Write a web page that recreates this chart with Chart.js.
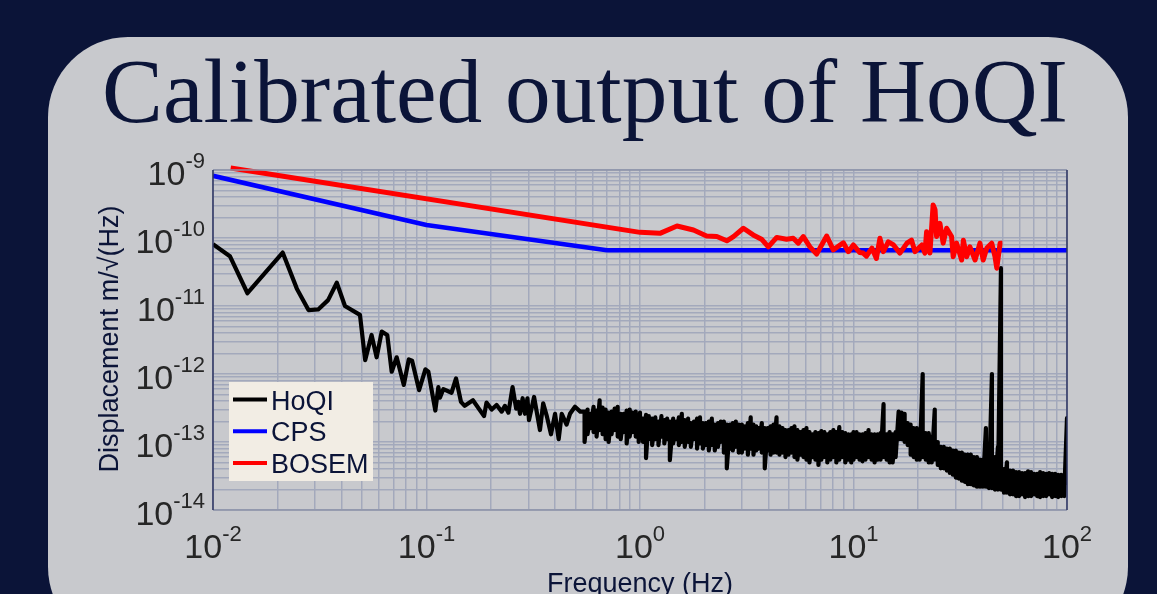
<!DOCTYPE html>
<html>
<head>
<meta charset="utf-8">
<title>Calibrated output of HoQI</title>
<script src="https://cdn.jsdelivr.net/npm/chart.js@4.4.1/dist/chart.umd.min.js"></script>
<style>
  html, body { margin: 0; padding: 0; background: #0b1438; }
  canvas { display: block; }
</style>
</head>
<body>
<canvas id="psd" width="1157" height="594"></canvas>
<script>
// HoQI spectrum below 0.55 Hz (Hz, m/sqrt(Hz))
const hoqiLowFreq = [
    0.01, 0.012, 0.0145, 0.0212, 0.0247, 0.028, 0.0311, 0.0346, 0.038, 0.0415,
    0.0488, 0.0516, 0.0553, 0.0584, 0.0617, 0.0655, 0.0687, 0.0725, 0.0783, 0.0826,
    0.0856, 0.0923, 0.0988, 0.102, 0.11, 0.1136, 0.1157, 0.12, 0.131, 0.1375,
    0.145, 0.151, 0.165, 0.186, 0.191, 0.202, 0.213, 0.225, 0.233, 0.242,
    0.253, 0.263, 0.269, 0.274, 0.282, 0.289, 0.297, 0.302, 0.319, 0.34,
    0.352, 0.366, 0.383, 0.40, 0.416, 0.43, 0.453, 0.47, 0.496, 0.525
];
const hoqiLowAmp = [
    8.1e-11, 5.4e-11, 1.54e-11, 6.1e-11, 1.8e-11, 8.7e-12, 8.9e-12, 1.22e-11, 2.2e-11, 1.0e-11,
    7.4e-12, 1.6e-12, 3.75e-12, 1.76e-12, 4.2e-12, 3.75e-12, 1.08e-12, 1.76e-12, 6.9e-13, 1.64e-12,
    1.57e-12, 5.8e-13, 1.17e-12, 1.08e-12, 2.9e-13, 6.4e-13, 4.5e-13, 6.0e-13, 5.3e-13, 8.6e-13,
    3.9e-13, 3.4e-13, 4.1e-13, 2.4e-13, 3.8e-13, 3.0e-13, 3.5e-13, 2.8e-13, 3.4e-13, 2.7e-13,
    6.4e-13, 3.1e-13, 3.9e-13, 2.6e-13, 4.4e-13, 2.6e-13, 4.4e-13, 2.1e-13, 4.6e-13, 1.5e-13,
    3.7e-13, 2.4e-13, 1.3e-13, 2.6e-13, 1.1e-13, 2.6e-13, 1.8e-13, 2.6e-13, 3.3e-13, 2.8e-13
];

// above 0.55 Hz the trace is a dense band: max and min read per frequency bin
const bandFreq = [
    0.55, 0.568, 0.587, 0.606, 0.626, 0.647, 0.668, 0.69, 0.713, 0.736,
    0.761, 0.786, 0.812, 0.838, 0.866, 0.895, 0.924, 0.955, 0.986,
    1.0, 1.033, 1.067, 1.1, 1.14, 1.18, 1.22, 1.26, 1.3, 1.34,
    1.38, 1.43, 1.48, 1.52, 1.57, 1.62, 1.68, 1.73, 1.79, 1.85,
    1.91, 1.97, 2.03, 2.1, 2.17, 2.24, 2.32, 2.39, 2.47, 2.55,
    2.64, 2.72, 2.81, 2.9,
    3.0, 3.1, 3.2, 3.3, 3.4, 3.5, 3.6, 3.72, 3.84, 3.96,
    4.09, 4.22, 4.36, 4.5, 4.65, 4.8, 4.96, 5.12, 5.29, 5.46,
    5.64, 5.83, 6.02, 6.22, 6.42, 6.63, 6.85, 7.07, 7.3, 7.54,
    7.79, 8.05, 8.31, 8.58, 8.86, 9.15, 9.45, 9.76,
    10, 10.33, 10.67, 11.02, 11.38, 11.76, 12.15, 12.55, 12.96, 13.39,
    13.83, 14.29, 14.76, 15.25, 15.75, 16.27, 16.81, 17.36, 17.93, 18.52,
    19.13, 19.77, 20.42, 21.09, 21.79, 22.51, 23.25, 24.02, 24.81, 25.63,
    26.47, 27.35, 28.25, 29.18, 30.14, 31.14, 32.16, 33.23, 34.32, 35.45,
    36.62, 37.83, 39.08, 40.37, 41.7, 43.08, 44.5, 45.97, 47.48, 49.05,
    50.67, 52.34, 54.07, 55.85, 57.7, 59.6, 61.57, 63.6, 65.7, 67.87,
    70.11, 72.42, 74.81, 77.28, 79.83, 82.46, 85.18, 87.99, 90.9, 93.9,
    97.0, 100
];
const bandMax = [
    2.8e-13, 3.0e-13, 2.6e-13, 3.3e-13, 2.9e-13, 4.1e-13, 3.2e-13, 3.0e-13, 2.7e-13, 2.8e-13,
    3.1e-13, 3.3e-13, 2.6e-13, 2.6e-13, 2.9e-13, 3.0e-13, 2.7e-13, 2.8e-13, 2.5e-13,
    2.7e-13, 2.2e-13, 2.5e-13, 2.4e-13, 2.2e-13, 2.3e-13, 2.0e-13, 2.4e-13, 2.1e-13, 2.2e-13,
    2.0e-13, 2.2e-13, 2.0e-13, 2.3e-13, 2.6e-13, 2.1e-13, 2.2e-13, 1.9e-13, 2.0e-13, 2.2e-13,
    2.3e-13, 1.9e-13, 1.9e-13, 2.0e-13, 2.2e-13, 1.8e-13, 1.9e-13, 2.0e-13, 2.0e-13, 1.8e-13,
    1.8e-13, 1.9e-13, 2.0e-13, 1.8e-13,
    1.8e-13, 1.7e-13, 1.9e-13, 2.3e-13, 1.8e-13, 1.7e-13, 1.6e-13, 1.9e-13, 1.6e-13, 1.6e-13,
    1.7e-13, 1.8e-13, 2.3e-13, 1.7e-13, 1.6e-13, 1.5e-13, 1.5e-13, 1.6e-13, 1.7e-13, 1.5e-13,
    1.4e-13, 1.5e-13, 1.6e-13, 1.4e-13, 1.3e-13, 1.4e-13, 1.35e-13, 1.45e-13, 1.4e-13, 1.3e-13,
    1.4e-13, 1.5e-13, 1.4e-13, 1.65e-13, 1.4e-13, 1.35e-13, 1.3e-13, 1.3e-13,
    1.4e-13, 1.4e-13, 1.3e-13, 1.3e-13, 1.35e-13, 1.5e-13, 1.3e-13, 1.3e-13, 1.3e-13, 1.35e-13,
    3.6e-13, 1.3e-13, 1.4e-13, 1.3e-13, 1.4e-13, 2.8e-13, 2.7e-13, 2.6e-13, 1.9e-13, 1.8e-13,
    1.6e-13, 1.6e-13, 1.4e-13, 1.0e-12, 1.35e-13, 1.35e-13, 1.2e-13, 3.0e-13, 1.0e-13, 8.5e-14,
    8.5e-14, 8.0e-14, 8.0e-14, 7.5e-14, 7.5e-14, 7.0e-14, 7.0e-14, 6.5e-14, 6.5e-14, 6.5e-14,
    6.0e-14, 6.0e-14, 5.5e-14, 5.5e-14, 1.6e-13, 5.5e-14, 1.0e-12, 6.0e-14, 8.5e-14, 3.6e-11,
    4.0e-14, 5.0e-14, 3.8e-14, 3.8e-14, 3.6e-14, 3.6e-14, 3.5e-14, 3.5e-14, 3.7e-14, 3.6e-14,
    3.4e-14, 3.4e-14, 3.6e-14, 3.5e-14, 3.4e-14, 3.5e-14, 3.4e-14, 3.4e-14, 3.3e-14, 3.3e-14,
    3.3e-14, 2.25e-13
];
const bandMin = [
    1.0e-13, 1.3e-13, 1.6e-13, 1.4e-13, 1.2e-13, 1.5e-13, 1.3e-13, 1.1e-13, 1.0e-13, 1.3e-13,
    1.5e-13, 1.2e-13, 1.1e-13, 1.4e-13, 9.5e-14, 1.2e-13, 1.4e-13, 1.2e-13, 1.0e-13,
    1.2e-13, 1.0e-13, 5.8e-14, 1.1e-13, 9.0e-14, 1.1e-13, 9.0e-14, 1.2e-13, 9.5e-14, 1.1e-13,
    5.4e-14, 9.5e-14, 1.1e-13, 9.0e-14, 1.0e-13, 8.5e-14, 1.0e-13, 8.5e-14, 1.1e-13, 8.0e-14,
    9.5e-14, 8.0e-14, 9.0e-14, 7.5e-14, 9.0e-14, 7.5e-14, 8.5e-14, 1.0e-13, 7.0e-14, 4.1e-14,
    8.0e-14, 7.5e-14, 8.5e-14, 7.0e-14,
    7.0e-14, 8.0e-14, 6.5e-14, 8.0e-14, 6.5e-14, 7.5e-14, 8.0e-14, 7.0e-14, 4.1e-14, 7.5e-14,
    6.5e-14, 7.0e-14, 7.0e-14, 6.5e-14, 7.0e-14, 6.0e-14, 6.5e-14, 7.0e-14, 6.0e-14, 5.5e-14,
    6.5e-14, 6.0e-14, 5.5e-14, 5.0e-14, 6.0e-14, 5.5e-14, 4.6e-14, 5.5e-14, 6.0e-14, 5.0e-14,
    5.5e-14, 6.0e-14, 5.0e-14, 5.5e-14, 6.0e-14, 5.0e-14, 5.5e-14, 5.0e-14,
    5.5e-14, 6.0e-14, 5.5e-14, 5.2e-14, 5.5e-14, 6.0e-14, 5.5e-14, 5.0e-14, 5.5e-14, 5.5e-14,
    6.0e-14, 5.5e-14, 5.0e-14, 5.0e-14, 6.0e-14, 1.1e-13, 1.1e-13, 1.0e-13, 9.0e-14, 6.5e-14,
    6.0e-14, 5.5e-14, 5.5e-14, 6.0e-14, 5.5e-14, 5.0e-14, 5.0e-14, 5.5e-14, 4.6e-14, 4.1e-14,
    4.1e-14, 3.8e-14, 3.5e-14, 3.3e-14, 3.0e-14, 2.9e-14, 2.7e-14, 2.6e-14, 2.4e-14, 2.4e-14,
    2.3e-14, 2.2e-14, 2.2e-14, 2.2e-14, 2.2e-14, 2.1e-14, 2.1e-14, 2.0e-14, 2.0e-14, 2.0e-14,
    1.8e-14, 1.8e-14, 1.7e-14, 1.7e-14, 1.6e-14, 1.6e-14, 1.7e-14, 1.55e-14, 1.6e-14, 1.6e-14,
    1.7e-14, 1.6e-14, 1.55e-14, 1.6e-14, 1.6e-14, 1.7e-14, 1.55e-14, 1.6e-14, 1.55e-14, 1.6e-14,
    1.6e-14, 2.5e-14
];

// CPS noise model
const cpsFreq = [0.01, 0.1, 0.7, 100];
const cpsAmp = [8.2e-10, 1.55e-10, 6.6e-11, 6.6e-11];

// BOSEM noise
const bosemFreq = [
    0.0121, 1.0, 1.24, 1.49, 1.78, 2.05, 2.29, 2.55, 2.74, 3.05,
    3.39, 3.71, 3.99, 4.37, 4.86, 5.22, 5.51, 5.82, 6.25, 6.72,
    7.49, 8.04, 8.96, 9.46, 9.98, 10.7, 11.1, 11.5, 12.2, 12.8,
    13.3, 13.8, 14.55, 15.4, 16.5, 17.8, 18.7, 19.4, 20.9, 21.6,
    22.0, 22.8, 23.6, 24.1, 24.5, 25.4, 26.3, 27.3, 28.8, 29.3,
    30.4, 32.1, 32.7, 33.9, 35.1, 37.1, 39.1, 40.5, 42.1, 44.4,
    46.0, 46.9, 48.6, 49.8
];
const bosemAmp = [
    1.07e-9, 1.21e-10, 1.17e-10, 1.5e-10, 1.31e-10, 1.07e-10, 1.05e-10, 9.1e-11, 1.05e-10, 1.39e-10,
    1.11e-10, 9.6e-11, 7.4e-11, 1.02e-10, 9.6e-11, 9.9e-11, 8.4e-11, 1.05e-10, 7.4e-11, 5.8e-11,
    1.07e-10, 6.7e-11, 8.5e-11, 6.3e-11, 7.9e-11, 6.1e-11, 6.0e-11, 5.4e-11, 7.1e-11, 5.0e-11,
    9.9e-11, 6.3e-11, 8.8e-11, 7.9e-11, 6.0e-11, 8.4e-11, 9.3e-11, 6.3e-11, 7.9e-11, 6.0e-11,
    1.24e-10, 6.0e-11, 3.06e-10, 2.6e-10, 1.05e-10, 1.64e-10, 8.4e-11, 1.39e-10, 1.05e-10, 5.3e-11,
    8.4e-11, 4.75e-11, 9.3e-11, 5.3e-11, 7.4e-11, 4.75e-11, 8.4e-11, 4.75e-11, 7.1e-11, 8.4e-11,
    5.3e-11, 3.6e-11, 8.4e-11, 8.4e-11
];

const seriesNames = ['HoQI', 'CPS', 'BOSEM'];
const seriesColors = ['#000000', '#0000ff', '#ff0000'];

// decade exponents for the tick labels
const xTickExp = [-2, -1, 0, 1, 2];
const yTickExp = [-9, -10, -11, -12, -13, -14];

const titleText = 'Calibrated output of HoQI';
const xTitle = 'Frequency (Hz)';
const yTitle = 'Displacement m/\u221A(Hz)';

const navy = '#0b1438';
const panelGray = '#c8c9cd';
const gridColor = '#a3a9bc';
const labelColor = '#262626';
const sans = '"Liberation Sans", Arial, sans-serif';

function toPoints(fs, vs) {
    return fs.map((f, i) => ({ x: f, y: vs[i] }));
}

// HoQI: low part, then each band bin drawn max -> min
function hoqiPoints() {
    const pts = toPoints(hoqiLowFreq, hoqiLowAmp);
    bandFreq.forEach((f, i) => {
        pts.push({ x: f, y: bandMax[i] });
        pts.push({ x: f, y: bandMin[i] });
    });
    return pts;
}

// grid lines at 1..9 x 10^n
function logGrid(lo, hi) {
    const out = [];
    for (let e = lo; e < hi; e++) {
        for (let m = 1; m < 10; m++) out.push({ value: m * Math.pow(10, e) });
    }
    out.push({ value: Math.pow(10, hi) });
    return out;
}

function powerLabel(ctx, exp, x, y, align) {
    ctx.font = '34px ' + sans;
    const wb = ctx.measureText('10').width;
    ctx.font = '22px ' + sans;
    const ws = ctx.measureText(String(exp)).width;
    const left = align === 'right' ? x - wb - ws : x - (wb + ws) / 2;
    ctx.font = '34px ' + sans;
    ctx.fillText('10', left, y);
    ctx.font = '22px ' + sans;
    ctx.fillText(String(exp), left + wb, y - 17);
}

const backdrop = {
    id: 'backdrop',
    beforeDraw(chart) {
        const ctx = chart.ctx;
        ctx.save();
        ctx.fillStyle = navy;
        ctx.fillRect(0, 0, chart.width, chart.height);
        ctx.fillStyle = panelGray;
        ctx.beginPath();
        ctx.roundRect(48, 37, 1080, 610, 80);
        ctx.fill();

        ctx.fillStyle = navy;
        ctx.font = '90px "Liberation Serif", serif';
        ctx.textBaseline = 'alphabetic';
        const w = ctx.measureText(titleText).width;
        ctx.translate(102, 122);
        ctx.scale(966 / w, 1);
        ctx.fillText(titleText, 0, 0);
        ctx.restore();
    }
};

const decorations = {
    id: 'decorations',
    afterDraw(chart) {
        const ctx = chart.ctx;
        const a = chart.chartArea;
        const xs = chart.scales.x, ys = chart.scales.y;
        ctx.save();

        // box around plot
        ctx.lineWidth = 1.5;
        ctx.strokeStyle = '#8d93a8';
        ctx.beginPath();
        ctx.moveTo(a.left, a.top); ctx.lineTo(a.right, a.top);
        ctx.moveTo(a.left, a.bottom); ctx.lineTo(a.right, a.bottom);
        ctx.stroke();
        ctx.strokeStyle = '#2c3360';
        ctx.beginPath();
        ctx.moveTo(a.left, a.top); ctx.lineTo(a.left, a.bottom);
        ctx.moveTo(a.right, a.top); ctx.lineTo(a.right, a.bottom);
        ctx.stroke();

        // tick labels
        ctx.fillStyle = labelColor;
        ctx.textBaseline = 'alphabetic';
        ctx.textAlign = 'left';
        yTickExp.forEach(e => {
            powerLabel(ctx, e, 205, ys.getPixelForValue(Math.pow(10, e)) + 15, 'right');
        });
        xTickExp.forEach(e => {
            powerLabel(ctx, e, xs.getPixelForValue(Math.pow(10, e)), 558, 'center');
        });

        // axis titles
        ctx.fillStyle = navy;
        ctx.font = '27px ' + sans;
        ctx.textAlign = 'center';
        ctx.fillText(xTitle, (a.left + a.right) / 2, 592);
        ctx.translate(118, (a.top + a.bottom) / 2 - 1);
        ctx.rotate(-Math.PI / 2);
        ctx.fillText(yTitle, 0, 0);
        ctx.restore();

        // legend
        ctx.save();
        ctx.fillStyle = '#f2ede4';
        ctx.fillRect(229, 382, 144, 99);
        ctx.font = '27px ' + sans;
        ctx.textAlign = 'left';
        ctx.textBaseline = 'alphabetic';
        chart.data.datasets.forEach((ds, i) => {
            const y = 399.5 + i * 31.7;
            ctx.strokeStyle = ds.borderColor;
            ctx.lineWidth = 4;
            ctx.beginPath();
            ctx.moveTo(233, y); ctx.lineTo(267, y);
            ctx.stroke();
            ctx.fillStyle = navy;
            ctx.fillText(ds.label, 271, y + 10);
        });
        ctx.restore();
    }
};

const seriesData = [
    hoqiPoints(),
    toPoints(cpsFreq, cpsAmp),
    toPoints(bosemFreq, bosemAmp)
];
const widths = [4.2, 4.6, 5];
const drawOrder = [3, 2, 1];
// let the BOSEM line start just above the top edge, as in the original
const clips = [0, 0, { left: 0, top: 5, right: 0, bottom: 0 }];

const config = {
    type: 'scatter',
    data: {
        datasets: seriesNames.map((name, i) => ({
            label: name,
            data: seriesData[i],
            showLine: true,
            borderColor: seriesColors[i],
            backgroundColor: seriesColors[i],
            borderWidth: widths[i],
            pointRadius: 0,
            tension: 0,
            borderJoinStyle: 'round',
            clip: clips[i],
            order: drawOrder[i]
        }))
    },
    options: {
        responsive: false,
        animation: false,
        devicePixelRatio: 1,
        layout: {
            padding: { top: 170, right: 90, left: 0, bottom: 0 }
        },
        plugins: {
            legend: { display: false },
            title: { display: false },
            tooltip: { enabled: false }
        },
        scales: {
            x: {
                type: 'logarithmic',
                min: 0.01,
                max: 100,
                afterBuildTicks: s => { s.ticks = logGrid(-2, 2); },
                afterFit: s => { s.height = 84; },
                ticks: { display: false },
                grid: { color: gridColor, lineWidth: 1.5, drawTicks: false },
                border: { display: false }
            },
            y: {
                type: 'logarithmic',
                min: 1e-14,
                max: 1e-9,
                afterBuildTicks: s => { s.ticks = logGrid(-14, -9); },
                afterFit: s => { s.width = 213; },
                ticks: { display: false },
                grid: { color: gridColor, lineWidth: 1.5, drawTicks: false },
                border: { display: false }
            }
        }
    },
    plugins: [backdrop, decorations]
};

let psd = new Chart(document.getElementById('psd'), config);
</script>
</body>
</html>
